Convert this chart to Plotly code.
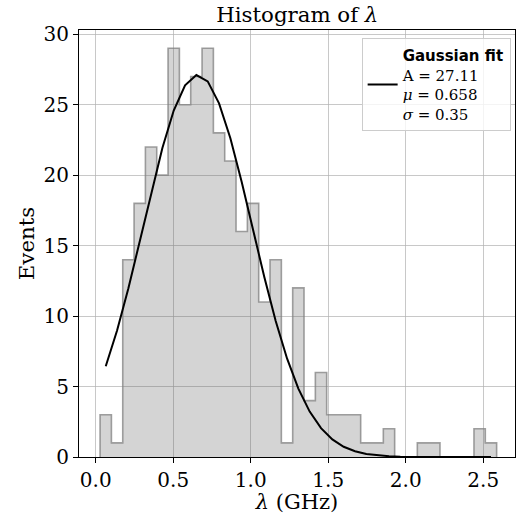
import numpy as np
import plotly.graph_objects as go

# Histogram data
bin_start = 0.028
bin_width = 0.0731
counts = [3, 1, 14, 18, 22, 20, 29, 25, 27, 29, 23, 21, 16, 18, 11, 14, 1, 12,
          4, 6, 3, 3, 3, 1, 1, 2, 0, 0, 1, 1, 0, 0, 0, 2, 1]

# Gaussian fit parameters (from the legend)
fit_A = 27.11
fit_mu = 0.658
fit_sigma = 0.35

x_ticks = [0.0, 0.5, 1.0, 1.5, 2.0, 2.5]
y_ticks = [0, 5, 10, 15, 20, 25, 30]

n = len(counts)
edges = bin_start + bin_width * np.arange(n + 1)
centers = 0.5 * (edges[:-1] + edges[1:])

step_x = [edges[0]] + list(edges) + [edges[-1]]
step_y = [0] + counts + [counts[-1]] + [0]

fit_y = fit_A * np.exp(-(centers - fit_mu) ** 2 / (2 * fit_sigma ** 2))

FONT = "DejaVu Serif"

fig = go.Figure()
fig.add_trace(go.Scatter(
    x=step_x, y=step_y, mode="lines", line_shape="hv",
    fill="tozeroy", fillcolor="rgba(82,82,82,0.25)",
    line=dict(color="rgba(128,128,128,0.75)", width=1.6),
    showlegend=False, hoverinfo="skip",
))
fig.add_trace(go.Scatter(
    x=centers, y=fit_y, mode="lines",
    line=dict(color="black", width=2),
    name=("<b><span style='font-family:DejaVu Sans'>Gaussian fit</span></b>"
          "<br>A = %.2f<br><i>μ</i> = %.3f<br><i>σ</i> = %.2f" % (fit_A, fit_mu, fit_sigma)),
))

axis_common = dict(
    showline=True, linecolor="black", linewidth=1.1, mirror=True,
    ticks="outside", ticklen=5, tickwidth=1.1, tickcolor="black",
    showgrid=True, gridcolor="rgba(176,176,176,0.7)", gridwidth=1.1,
    zeroline=False, tickfont=dict(family=FONT, size=20, color="black"),
)

fig.update_layout(
    width=517, height=514,
    margin=dict(l=79, r=2, t=30, b=57),
    paper_bgcolor="white", plot_bgcolor="white",
    font=dict(family=FONT, color="black"),
    title=dict(text="Histogram of <i>λ</i>", x=0.575, xanchor="center",
               y=0.972, yanchor="middle", font=dict(family=FONT, size=21.3)),
    xaxis=dict(range=[-0.108, 2.705], tickvals=x_ticks, tickformat=".1f",
               title=dict(text="<i>λ</i> (GHz)", font=dict(family=FONT, size=21), standoff=5),
               **axis_common),
    yaxis=dict(range=[0, 30.3], tickvals=y_ticks,
               title=dict(text="Events", font=dict(family=FONT, size=21.3), standoff=3),
               **axis_common),
    legend=dict(x=0.99, y=0.981, xanchor="right", yanchor="top",
                bgcolor="rgba(255,255,255,0.8)", bordercolor="#cccccc", borderwidth=1,
                font=dict(family=FONT, size=15, color="black"), valign="middle",
                itemwidth=30),
)

fig.write_html("out.html")
